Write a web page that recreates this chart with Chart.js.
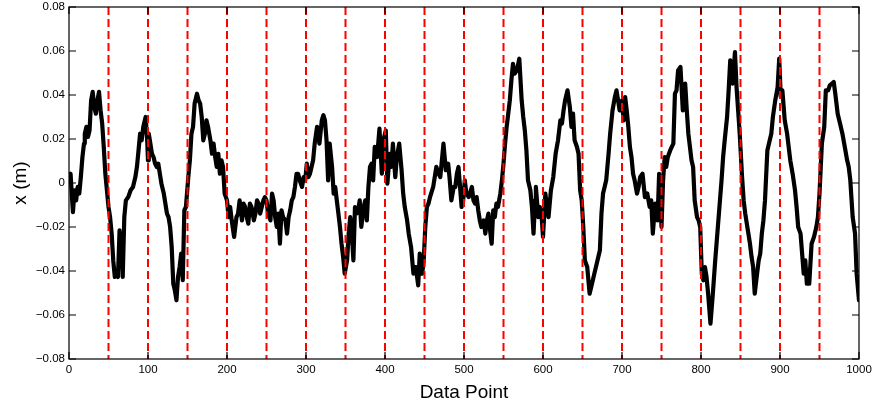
<!DOCTYPE html>
<html><head><meta charset="utf-8">
<script src="https://cdn.jsdelivr.net/npm/chart.js@4.4.1/dist/chart.umd.min.js"></script>
<style>html,body{margin:0;padding:0;background:#fff}</style>
</head><body>
<canvas id="c" width="872" height="412"></canvas>
<script>
// sample positions (data point index)
const dataPoint = [
  0,2,4,5,7,9,11,13,15,17,
  19,20,22,24,26,28,30,32,34,36,
  38,40,42,44,46,48,50,52,54,56,
  58,60,62,64,65,67,68,70,72,75,
  78,81,84,86,88,90,92,94,96,97,
  99,100,101,103,105,107,109,111,113,115,
  117,120,122,124,126,128,
  130,132,134,136,138,140,142,144,146,148,
  151,153,155,157,159,162,164,166,168,170,
  172,174,176,179,181,183,185,187,189,191,
  193,195,197,200,202,204,206,209,212,214,
  216,219,221,223,225,227,229,231,234,236,
  238,240,242,244,246,248,250,252,
  255,257,259,261,263,265,267,269,271,274,
  276,278,280,282,284,286,288,290,292,295,
  297,299,301,303,305,307,309,311,314,317,
  320,322,324,326,328,330,333,335,337,339,
  341,343,345,347,349,352,354,356,358,360,
  362,364,366,368,370,373,375,377,379,381,
  383,385,387,390,393,396,398,401,403,406,
  408,410,413,415,418,421,423,425,428,430,
  433,436,439,442,444,447,449,451,453,455,
  457,461,465,468,470,472,474,477,480,482,
  484,487,489,491,493,495,497,499,501,503,
  506,
  510,512,514,516,518,520,522,525,527,529,
  531,533,535,537,539,541,543,546,548,550,
  552,554,556,558,560,562,564,567,570,573,
  575,577,579,581,584,586,588,590,591,594,
  596,598,600,603,605,607,610,613,616,619,
  622,624,626,628,631,
  634,636,638,640,643,645,647,649,651,653,
  656,659,662,665,668,670,672,674,676,678,
  680,683,685,688,691,693,695,697,700,702,
  704,706,708,710,712,714,716,719,721,723,
  726,729,732,735,737,739,742,745,747,750,
  752,754,756,758,761,763,765,767,769,771,
  774,777,780,782,784,786,788,790,792,795,
  797,799,801,803,805,807,809,812,815,818,
  821,824,826,828,830,833,835,837,840,843,
  845,847,849,852,854,856,858,860,862,864,
  866,868,871,873,
  875,877,879,881,884,887,889,891,894,897,
  899,901,903,906,909,911,913,916,919,921,
  923,926,928,930,932,934,937,940,943,946,
  948,950,953,956,958,961,963,966,968,970,
  973,976,979,982,985,987,989,992,995,997,
  1000
];
// displacement x in millimetres at those positions
const xMm = [
  1.2,4.2,-7.9,-13.2,-3.3,-7.9,-1.8,-4.8,2.7,11.8,
  17.9,22.4,25.5,20.9,23.9,37.6,41.4,34.5,31.5,37.6,
  41.4,33.0,27.0,16.4,4.2,-3.3,-10.9,-15.5,-23.0,-35.2,
  -42.7,-41.2,-42.7,-21.5,-38.2,-23.0,-42.7,-15.5,-7.9,-6.4,
  -3.3,-1.8,2.7,7.3,14.8,22.4,19.4,25.5,28.5,30.0,
  19.4,10.3,22.4,17.9,13.3,11.8,8.8,7.3,8.8,4.2,
  -0.3,-4.8,-9.4,-13.9,-15.5,-20.0,
  -29.1,-45.8,-48.8,-53.3,-42.7,-38.2,-32.1,-44.2,-12.4,-10.9,
  2.7,10.3,22.4,25.5,36.1,40.6,37.6,36.1,30.0,19.4,
  22.4,28.5,25.5,19.4,13.3,17.9,11.8,7.3,13.3,4.2,
  10.3,7.3,-4.8,-7.9,-15.5,-10.9,-17.0,-24.5,-15.5,-13.9,
  -7.9,-17.0,-9.4,-10.9,-15.5,-18.5,-9.4,-10.9,-17.0,-13.9,
  -7.9,-9.4,-13.9,-10.9,-7.9,-6.4,-7.9,-13.9,
  -17.0,-4.8,-7.9,-15.5,-20.0,-13.9,-27.6,-12.4,-15.5,-17.0,
  -23.0,-15.5,-12.4,-7.9,-6.4,-1.8,4.2,4.2,1.2,-1.8,
  2.7,1.2,8.8,2.7,4.2,7.3,10.3,17.9,25.5,17.9,
  28.5,30.8,28.5,19.4,1.2,17.9,7.3,-4.8,-1.8,-7.9,
  -13.9,-20.0,-27.6,-33.6,-41.2,-35.2,-23.0,-15.5,-23.0,-35.2,
  -10.9,-13.9,-12.4,-7.9,-20.0,-10.9,-7.9,-17.0,-1.8,7.3,
  8.8,1.2,16.4,11.8,24.7,4.2,19.4,23.9,-0.3,13.3,
  7.3,17.9,2.7,11.8,17.9,5.8,-4.8,-10.9,-17.0,-23.0,
  -29.1,-41.2,-38.2,-46.5,-32.1,-41.2,-35.2,-20.0,-10.9,-9.4,
  -6.4,-1.8,7.3,4.2,2.7,10.3,17.9,5.8,8.8,1.2,
  -7.9,-1.8,-1.8,4.2,7.3,-1.8,-10.9,-7.9,1.2,-4.8,
  -6.4,
  -1.8,-7.9,-9.4,-6.4,-12.4,-17.0,-20.0,-17.0,-23.0,-17.0,
  -13.9,-21.5,-27.6,-12.4,-15.5,-9.4,-10.9,-4.8,1.2,8.8,
  17.9,25.5,31.5,37.6,46.7,54.2,49.7,51.2,56.5,37.6,
  30.0,23.9,14.8,1.2,-3.3,-10.9,-23.0,-7.9,-1.8,-15.5,
  -10.9,-13.9,-24.5,-4.8,-10.9,-15.5,-3.3,2.7,13.3,19.4,
  28.5,27.0,33.0,37.6,42.1,
  34.5,25.5,31.5,19.4,16.4,13.3,-3.3,-7.9,-20.0,-35.2,
  -38.2,-50.3,-45.8,-41.2,-36.7,-33.6,-30.6,-13.9,-4.8,-1.8,
  1.2,13.3,22.4,33.0,39.1,42.1,37.6,33.0,37.6,28.5,
  39.1,33.0,25.5,16.4,11.8,4.2,1.2,-4.8,-1.8,2.7,
  4.2,-6.4,-4.8,-10.9,-7.9,-23.0,-9.4,-17.0,4.2,-20.0,
  1.2,11.8,7.3,11.8,14.8,16.4,17.9,40.6,42.1,51.2,
  52.7,33.0,45.2,33.0,22.4,16.4,10.3,7.3,-7.9,-15.5,
  -17.0,-20.0,-41.2,-44.2,-38.2,-42.7,-50.3,-63.9,-50.3,-35.2,
  -21.5,-7.9,1.2,11.8,19.4,30.0,42.1,55.8,45.2,59.5,
  43.6,33.0,22.4,2.7,-7.9,-13.9,-18.5,-23.0,-27.6,-33.6,
  -38.2,-50.3,-41.2,-35.2,
  -32.1,-23.0,-17.0,-7.9,14.8,19.4,22.4,30.0,37.6,43.6,
  56.5,39.1,42.1,28.5,22.4,16.4,10.3,4.2,-3.3,-10.9,
  -20.0,-23.0,-32.1,-41.2,-35.2,-45.8,-45.8,-27.6,-24.5,-20.0,
  -15.5,-4.8,17.9,25.5,42.1,42.1,44.4,45.2,45.9,40.6,
  31.5,27.0,22.4,16.4,10.3,7.3,1.2,-15.5,-23.0,-41.2,
  -53.3
];
// red dashed division markers
const dividers = [50,100,150,200,250,300,350,400,450,500,550,600,650,700,750,800,850,900,950];
const xTicks = [0,100,200,300,400,500,600,700,800,900,1000];
const yTicks = [-0.08,-0.06,-0.04,-0.02,0,0.02,0.04,0.06,0.08];
const yMin = -0.08, yMax = 0.08;

const trace = dataPoint.map((d,i)=>({x:d, y:xMm[i]/1000}));
const datasets = [{
  data: trace, borderColor:'#000', borderWidth:4.2, pointRadius:0,
  tension:0, borderJoinStyle:'round', borderCapStyle:'round', order:2
}];
dividers.forEach(v=>{
  datasets.push({data:[{x:v,y:yMax},{x:v,y:yMin}], borderColor:'#ff0000', borderWidth:2,
    borderDash:[8,4], pointRadius:0, order:1});
});

const FONT = '"Liberation Sans", Arial, Helvetica, sans-serif';
const fmtY = v => { const r = Math.round(v*100)/100; if (r===0) return '0'; return (r<0?'\u2212':'') + Math.abs(r).toFixed(2); };

const frame = {
  id:'frame',
  afterDraw(chart){
    const {ctx, chartArea:a, scales:{x,y}} = chart;
    ctx.save();
    ctx.strokeStyle = '#000'; ctx.lineWidth = 1.2;
    ctx.strokeRect(a.left, a.top, a.right-a.left, a.bottom-a.top);
    const L = 7;
    ctx.beginPath();
    xTicks.forEach(v=>{ const p = x.getPixelForValue(v);
      ctx.moveTo(p,a.bottom); ctx.lineTo(p,a.bottom-L);
      ctx.moveTo(p,a.top); ctx.lineTo(p,a.top+L); });
    yTicks.forEach(v=>{ const p = y.getPixelForValue(v);
      ctx.moveTo(a.left,p); ctx.lineTo(a.left+L,p);
      ctx.moveTo(a.right,p); ctx.lineTo(a.right-L,p); });
    ctx.stroke();
    ctx.restore();
  }
};

new Chart(document.getElementById('c'), {
  type:'line',
  data:{datasets},
  options:{
    responsive:false, animation:false, devicePixelRatio:1,
    layout:{padding:{top:7,right:13,left:0,bottom:0}},
    plugins:{legend:{display:false}, tooltip:{enabled:false}},
    elements:{point:{radius:0}},
    scales:{
      x:{type:'linear', min:0, max:1000,
        afterFit(s){ s.height = 53; s.paddingRight = 0; s.paddingLeft = 0; },
        afterBuildTicks(s){ s.ticks = xTicks.map(v=>({value:v})); },
        ticks:{font:{family:FONT,size:11.5}, color:'#000', padding:4, maxRotation:0, autoSkip:false, callback:v=>String(v)},
        grid:{display:false, drawTicks:false}, border:{display:false},
        title:{display:true, text:'Data Point', font:{family:FONT,size:19}, color:'#000', padding:{top:0,bottom:8}}
      },
      y:{type:'linear', min:yMin, max:yMax,
        afterFit(s){ s.width = 69; s.paddingTop = 0; s.paddingBottom = 0; },
        afterBuildTicks(s){ s.ticks = yTicks.map(v=>({value:v})); },
        ticks:{font:{family:FONT,size:11.5}, color:'#000', padding:4, callback:v=>fmtY(v)},
        grid:{display:false, drawTicks:false}, border:{display:false},
        title:{display:true, text:'x (m)', font:{family:FONT,size:19}, color:'#000', padding:{top:9,bottom:0}}
      }
    }
  },
  plugins:[frame]
});
</script>
</body></html>
